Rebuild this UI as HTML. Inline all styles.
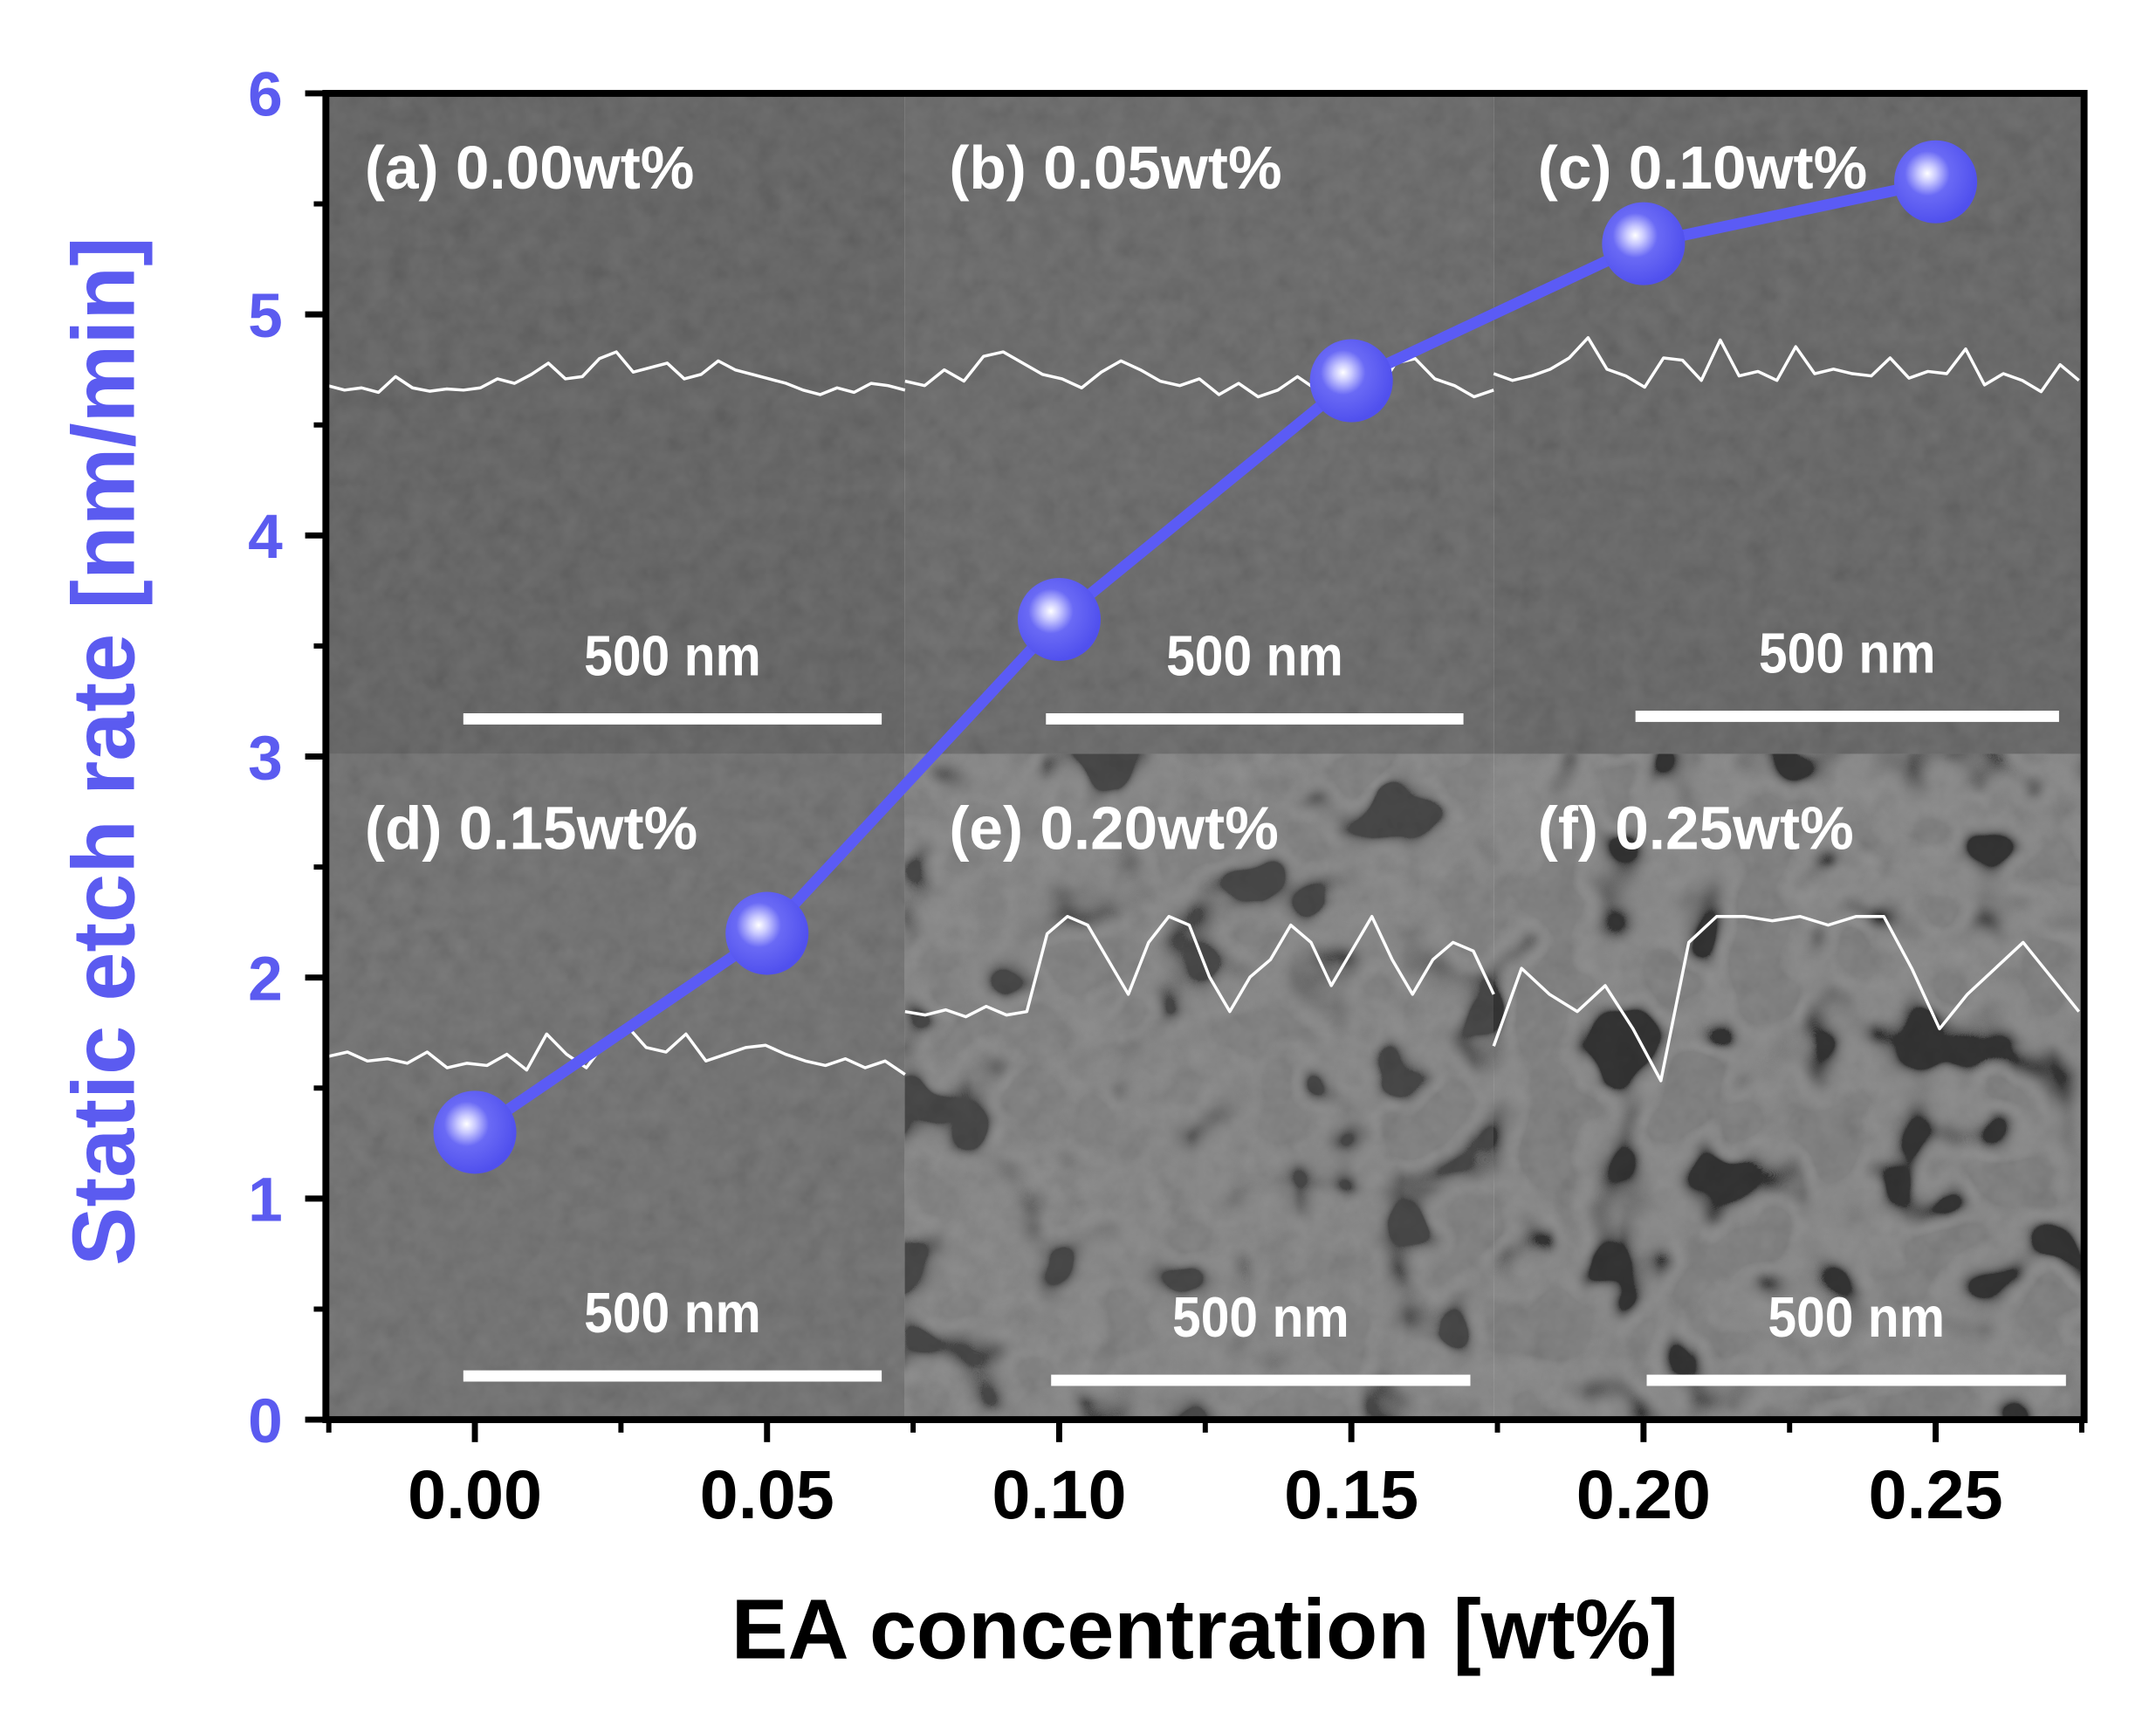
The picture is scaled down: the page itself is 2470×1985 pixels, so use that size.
<!DOCTYPE html>
<html><head><meta charset="utf-8"><style>
html,body{margin:0;padding:0;background:#fff;}
svg{display:block;}
text{font-family:"Liberation Sans",Arial,sans-serif;font-weight:bold;}
</style></head><body>
<svg id="chart" width="2470" height="1985" viewBox="0 0 2470 1985" xmlns="http://www.w3.org/2000/svg">
<defs>
<filter id="tex" x="0" y="0" width="100%" height="100%">
<feTurbulence type="fractalNoise" baseFrequency="0.04" numOctaves="3" seed="7" result="t"/>
<feColorMatrix in="t" type="matrix" values="0.33 0.33 0.33 0 0  0.33 0.33 0.33 0 0  0.33 0.33 0.33 0 0  0 0 0 0 0.18"/>
</filter>
<filter id="tex2" x="0" y="0" width="100%" height="100%">
<feTurbulence type="fractalNoise" baseFrequency="0.012" numOctaves="2" seed="11" result="t"/>
<feColorMatrix in="t" type="matrix" values="1.2 1.2 1.2 0 -1.4  1.2 1.2 1.2 0 -1.4  1.2 1.2 1.2 0 -1.4  -2 -2 -2 0 3.4"/>
</filter>
<radialGradient id="ball" cx="0.4" cy="0.4" r="0.6">
<stop offset="0" stop-color="#ffffff"/>
<stop offset="0.18" stop-color="#c9c9ff"/>
<stop offset="0.45" stop-color="#6a6af5"/>
<stop offset="1" stop-color="#5050ee"/>
</radialGradient>
</defs>
<g transform="scale(0.9903)">
<g id="panels"></g>
<g id="traces"></g>
<g id="labels"></g>
<g id="series"></g>
<g id="axes"></g>
<text x="1394" y="1918" font-size="98" text-anchor="middle" fill="#000">EA concentration [wt%]</text>
<text transform="translate(155,869) rotate(-90)" font-size="102" text-anchor="middle" fill="#5b5bf0">Static etch rate [nm/min]</text>
</g>
</svg>
<script>
const categories = [0.00, 0.05, 0.10, 0.15, 0.20, 0.25];
const etchRate = [1.3, 2.2, 3.62, 4.7, 5.32, 5.6];
const xTicks = [0.00, 0.05, 0.10, 0.15, 0.20, 0.25];
const xTickLabels = ["0.00", "0.05", "0.10", "0.15", "0.20", "0.25"];
const yTicks = [0, 1, 2, 3, 4, 5, 6];
const panelLabels = ["(a) 0.00wt%", "(b) 0.05wt%", "(c) 0.10wt%", "(d) 0.15wt%", "(e) 0.20wt%", "(f) 0.25wt%"];

const NS = "http://www.w3.org/2000/svg";
const L = 377, R = 2411, T = 108, B = 1642;
const xMin = -0.0255, xMax = 0.2754, yMin = 0, yMax = 6;
function xs(v){ return L + (v - xMin) / (xMax - xMin) * (R - L); }
function ys(v){ return B - (v - yMin) / (yMax - yMin) * (B - T); }
function mk(tag, attrs, parent){ const e = document.createElementNS(NS, tag); for (const k in attrs) e.setAttribute(k, attrs[k]); parent.appendChild(e); return e; }

const panels = document.getElementById('panels');
const colX = [377, 1047, 1728, 2411], rowY = [108, 872, 1642];
const baseGray = ["#555555","#5c5c5c","#585858","#646464","#747474","#727272"];
for (let r = 0; r < 2; r++) for (let c = 0; c < 3; c++) {
  const i = r*3+c;
  const g = mk('g', {}, panels);
  
  
  const a = {x: colX[c], y: rowY[r], width: colX[c+1]-colX[c], height: rowY[r+1]-rowY[r]};
  mk('rect', Object.assign({fill: baseGray[i]}, a), g);
  mk('rect', Object.assign({filter: 'url(#tex)'}, a), g);
  if (r === 1 && c > 0) mk('rect', Object.assign({filter: 'url(#tex2)', opacity: c===2?0.6:0.45}, a), g);
}

const traceRow1 = [
 [0,4,2,6,-8,2,5,3,4,2,-6,-2,-10,-20,-6,-8,-24,-30,-12,-16,-20,-6,-10,-22,-14,-10,-6,-2,4,8,2,6,-2,0,4],
 [-4,0,-14,-4,-26,-30,-20,-10,-6,2,-12,-22,-14,-4,0,-6,8,-2,10,4,-8,4,0,-4,8,-20,-24,-6,0,10,4],
 [-6,0,-4,-10,-20,-38,-10,-4,6,-20,-18,0,-36,-4,-8,0,-30,-6,-10,-6,-4,-20,-2,-8,-6,-28,4,-6,0,10,-14,0]
];
const traceRow2 = [
 [0,-4,4,2,6,-4,10,6,8,-2,12,-20,-2,10,-14,-28,-8,-4,-20,4,-2,-8,-10,-2,4,8,2,10,4,16],
 [0,4,-2,6,-6,4,0,-90,-110,-100,-60,-20,-80,-110,-100,-40,0,-40,-60,-100,-80,-30,-70,-110,-60,-20,-60,-80,-70,-20],
 [0,-90,-60,-40,-70,-20,40,-120,-150,-150,-145,-150,-140,-150,-150,-90,-20,-60,-90,-120,-80,-40]
];
const traces = document.getElementById('traces');
function drawTrace(arr, x0, x1, y0, amp){
  let pts = [];
  for (let i=0;i<arr.length;i++){
    const x = x0 + (x1-x0)*i/(arr.length-1);
    pts.push(x.toFixed(1)+','+(y0 - arr[i]*amp).toFixed(1));
  }
  const p = mk('polyline', {points: pts.join(' '), fill:'none', stroke:'#fff', 'stroke-width':3.5, 'stroke-linejoin':'round'}, traces);
  
  
}
drawTrace(traceRow1[0], 379, 1047, 446, -1.3);
drawTrace(traceRow1[1], 1047, 1728, 446, -1.3);
drawTrace(traceRow1[2], 1728, 2405, 440, -1.3);
drawTrace(traceRow2[0], 379, 1047, 1222, -1.3);
drawTrace(traceRow2[1], 1047, 1728, 1170, -1.0);
drawTrace(traceRow2[2], 1728, 2405, 1210, -1.0);

const labels = document.getElementById('labels');
const labelPos = [[422,218],[1098,218],[1779,218],[422,982],[1098,982],[1779,982]];
const bars = [[536,1020,831],[1210,1693,831],[1892,2382,828],[536,1020,1591],[1216,1701,1596],[1905,2390,1596]];
for (let i=0;i<6;i++){
  const t = mk('text', {x: labelPos[i][0], y: labelPos[i][1], 'font-size': 70, fill:'#fff'}, labels);
  
  
  t.textContent = panelLabels[i];
  const b = bars[i];
  const cx = (b[0]+b[1])/2;
  const st = mk('text', {x: cx, y: b[2]-50, 'font-size': 66, fill:'#fff', 'text-anchor':'middle', transform:'translate('+(cx*0.1)+',0) scale(0.9,1)'}, labels);
  
  
  st.textContent = '500 nm';
  const bar = mk('rect', {x: b[0], y: b[2]-6, width: b[1]-b[0], height: 13, fill:'#fff'}, labels);
  
  
}

const series = document.getElementById('series');
const pts = categories.map((c,i)=> xs(c).toFixed(1)+','+ys(etchRate[i]).toFixed(1)).join(' ');
const line = mk('polyline', {points: pts, fill:'none', stroke:'#5b5bf5', 'stroke-width':13, 'stroke-linejoin':'round'}, series);


categories.forEach((c,i)=>{
  const m = mk('circle', {cx: xs(c), cy: ys(etchRate[i]), r: 48, fill:'url(#ball)'}, series);
  
  
});

const axes = document.getElementById('axes');
mk('rect', {x:L, y:T, width:R-L, height:B-T, fill:'none', stroke:'#000', 'stroke-width':8}, axes);
yTicks.forEach(v=>{
  const y = ys(v);
  mk('line', {x1:L-24, x2:L, y1:y, y2:y, stroke:'#000', 'stroke-width':7}, axes);
  if (v < 6) mk('line', {x1:L-14, x2:L, y1:ys(v+0.5), y2:ys(v+0.5), stroke:'#000', 'stroke-width':6}, axes);
  const t = mk('text', {x: L-50, y: y+26, 'font-size': 72, fill:'#5b5bf0', 'text-anchor':'end'}, axes);
  
  
  t.textContent = v;
});
xTicks.forEach((v,i)=>{
  const x = xs(v);
  mk('line', {x1:x, x2:x, y1:B, y2:B+26, stroke:'#000', 'stroke-width':7}, axes);
  mk('line', {x1:xs(v+0.025), x2:xs(v+0.025), y1:B, y2:B+15, stroke:'#000', 'stroke-width':6}, axes);
  const t = mk('text', {x: x, y: B+114, 'font-size': 80, fill:'#000', 'text-anchor':'middle'}, axes);
  
  
  t.textContent = xTickLabels[i];
});
mk('line', {x1:xs(-0.025), x2:xs(-0.025), y1:B, y2:B+15, stroke:'#000', 'stroke-width':6}, axes);
</script>
</body></html>
